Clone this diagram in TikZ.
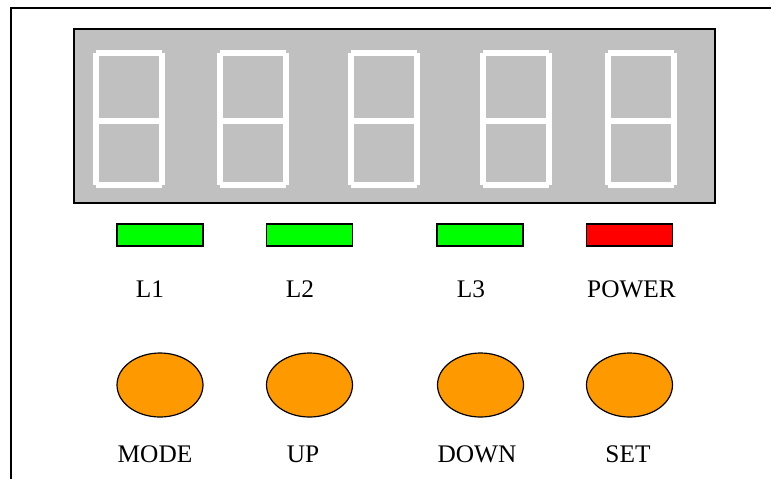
\documentclass[tikz,border=0pt]{standalone}
\usepackage{fontspec}
\setmainfont{Liberation Serif}
\usetikzlibrary{shapes.geometric, positioning}
\definecolor{panelgray}{HTML}{C0C0C0}
\definecolor{ledgreen}{HTML}{00FF00}
\definecolor{ledred}{HTML}{FF0000}
\definecolor{btnorange}{HTML}{FF9900}

\tikzset{
  segment/.style={white, line width=4.5pt},
  led/.style={draw, line width=1.1pt, minimum width=64.5pt, minimum height=16.5pt, inner sep=0pt},
  button/.style={ellipse, draw, line width=0.9pt, fill=btnorange, minimum width=64.5pt, minimum height=48pt, inner sep=0pt},
  caption/.style={anchor=base, inner sep=0pt, font=\fontsize{19}{22}\selectfont}
}

\begin{document}
\begin{tikzpicture}[x=0.75pt,y=-0.75pt]
  \useasboundingbox (0,0) rectangle (771,479);

  % outer frame, only top and left edges visible
  \draw[line width=1.5pt] (11,479) -- (11,8) -- (771,8);

  % display panel
  \draw[fill=panelgray, line width=1.1pt] (74,29) rectangle (715,203);

  % five digits, all segments lit
  \foreach \dx in {93,217,348,480,605} {
    \draw[segment] (\dx+3,53) -- (\dx+69,53);
    \draw[segment] (\dx+3,120.5) -- (\dx+69,120.5);
    \draw[segment] (\dx+3,185) -- (\dx+69,185);
    \draw[segment] (\dx+3,53) -- (\dx+3,120.5);
    \draw[segment] (\dx+3,120.5) -- (\dx+3,185);
    \draw[segment] (\dx+69,53) -- (\dx+69,120.5);
    \draw[segment] (\dx+69,120.5) -- (\dx+69,185);
  }

  % indicator leds
  \node[led, fill=ledgreen] (led1) at (160,235) {};
  \node[led, fill=ledgreen] (led2) at (309.5,235) {};
  \node[led, fill=ledgreen] (led3) at (480,235) {};
  \node[led, fill=ledred] (ledpower) at (629.5,235) {};

  \node[caption] (lbl1) at (150,297) {L1};
  \node[caption] (lbl2) at (300,297) {L2};
  \node[caption] (lbl3) at (471,297) {L3};
  \node[caption] (lblpower) at (631.5,297) {POWER};

  % push buttons
  \node[button] (btnmode) at (160,385) {};
  \node[button] (btnup) at (309.5,385) {};
  \node[button] (btndown) at (480.5,385) {};
  \node[button] (btnset) at (629.5,385) {};

  \node[caption] (lblmode) at (155,462) {MODE};
  \node[caption] (lblup) at (303,462) {UP};
  \node[caption] (lbldown) at (477,462) {DOWN};
  \node[caption] (lblset) at (628,462) {SET};
\end{tikzpicture}
\end{document}
